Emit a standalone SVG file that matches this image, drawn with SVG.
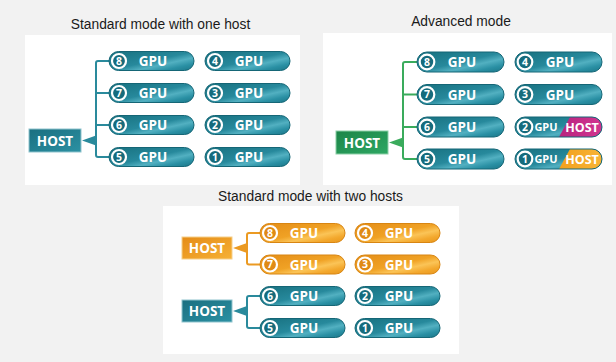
<svg xmlns="http://www.w3.org/2000/svg" width="616" height="362" viewBox="0 0 616 362">
  <defs>
    <linearGradient id="gTeal" x1="0" y1="0" x2="1" y2="1">
      <stop offset="0" stop-color="#17707f"/>
      <stop offset="0.5" stop-color="#27899c"/>
      <stop offset="0.66" stop-color="#52b0c1"/>
      <stop offset="0.82" stop-color="#2a90a4"/>
      <stop offset="1" stop-color="#1b7688"/>
    </linearGradient>
    <linearGradient id="gOrange" x1="0" y1="0" x2="1" y2="1">
      <stop offset="0" stop-color="#e48d17"/>
      <stop offset="0.5" stop-color="#f0a225"/>
      <stop offset="0.66" stop-color="#fbc457"/>
      <stop offset="0.82" stop-color="#f3a82d"/>
      <stop offset="1" stop-color="#e8961c"/>
    </linearGradient>
    <linearGradient id="gHostTeal" x1="0" y1="0" x2="1" y2="1">
      <stop offset="0" stop-color="#1a6f80"/>
      <stop offset="1" stop-color="#2c91a3"/>
    </linearGradient>
    <linearGradient id="gHostGreen" x1="0" y1="0" x2="1" y2="1">
      <stop offset="0" stop-color="#1c8548"/>
      <stop offset="1" stop-color="#2ea763"/>
    </linearGradient>
    <linearGradient id="gHostOrange" x1="0" y1="0" x2="1" y2="1">
      <stop offset="0" stop-color="#e58c18"/>
      <stop offset="1" stop-color="#f6b135"/>
    </linearGradient>
    <linearGradient id="gMagenta" x1="0" y1="0" x2="1" y2="0">
      <stop offset="0" stop-color="#b8237f"/>
      <stop offset="1" stop-color="#d1358f"/>
    </linearGradient>
    <linearGradient id="gAmber" x1="0" y1="0" x2="1" y2="0">
      <stop offset="0" stop-color="#f2a01c"/>
      <stop offset="1" stop-color="#f8b436"/>
    </linearGradient>
    <clipPath id="pillClip"><rect x="0" y="0" width="87" height="20" rx="10"/></clipPath>
  </defs>
  <style>
    .title { font-family: "Liberation Sans", Arial, sans-serif; font-size: 13.8px; fill: #1a1a1a; text-anchor: middle; }
    .lbl { font-family: "Open Sans", "Liberation Sans", sans-serif; font-weight: 700; fill: #ffffff; text-anchor: middle; }
    .gpu { font-size: 13.5px; }
    .num { font-size: 10.5px; }
    .host { font-size: 13.5px; }
    .pill-t { fill: url(#gTeal); stroke: #156676; stroke-width: 1; }
    .pill-o { fill: url(#gOrange); stroke: #d88512; stroke-width: 1; }
    .dot-t { fill: #166b7c; stroke: #ffffff; stroke-width: 2.2; }
    .dot-o { fill: #e08a14; stroke: #ffffff; stroke-width: 2.2; }
    .box-t { fill: url(#gHostTeal); stroke: #8fc3cd; stroke-width: 1; }
    .box-g { fill: url(#gHostGreen); stroke: #8ccfa6; stroke-width: 1; }
    .box-o { fill: url(#gHostOrange); stroke: #f6cf8a; stroke-width: 1; }
    .wire { fill: none; stroke-width: 2; }
    .wire-t { stroke: #2a8a9c; }
    .wire-g { stroke: #3aab5c; }
    .wire-o { stroke: #eb9a22; }
    .panel { fill: #ffffff; }
  </style>

  <!-- page background and panels -->
  <rect x="0" y="0" width="616" height="362" fill="#f2f2f2"/>
  <rect class="panel" x="25" y="35" width="275" height="150"/>
  <rect class="panel" x="323" y="33" width="289" height="152"/>
  <rect class="panel" x="163" y="206" width="296" height="148"/>

  <text class="title" x="160.5" y="29">Standard mode with one host</text>
  <text class="title" x="461" y="26">Advanced mode</text>
  <text class="title" x="310.5" y="201">Standard mode with two hosts</text>

  <!-- connectors -->
  <g id="connectors">
    <path class="wire wire-t" d="M109,61 H98 Q96,61 96,63 V155 Q96,157 98,157 H109 M96,93 H109 M96,125 H109"/>
    <polygon fill="#2a8a9c" points="82,140.5 96,135.5 96,145.5"/>
    <path class="wire wire-g" d="M417,62 H405 Q403,62 403,64 V157 Q403,159 405,159 H417 M403,94.5 H417 M403,127 H417"/>
    <polygon fill="#3aab5c" points="389,142.5 403,137.5 403,147.5"/>
    <path class="wire wire-o" d="M260,233 H249 Q247,233 247,235 V262.5 Q247,264.5 249,264.5 H260"/>
    <polygon fill="#eb9a22" points="233,248 247,243 247,253"/>
    <path class="wire wire-t" d="M260,296 H249 Q247,296 247,298 V326 Q247,328 249,328 H260"/>
    <polygon fill="#2a8a9c" points="233,311 247,306 247,316"/>
  </g>

  <!-- standard mode, one host -->
  <g id="host-a"><rect class="box-t" x="29" y="129" width="52" height="23"/><text class="lbl host" x="55" y="145.5">HOST</text></g>
  <g id="a-gpu8" transform="translate(109,51.5)"><rect class="pill-t" width="85" height="19" rx="9.5"/><circle class="dot-t" cx="10" cy="9.5" r="7"/><text class="lbl num" x="10" y="13.2">8</text><text class="lbl gpu" x="44" y="14.5">GPU</text></g>
  <g id="a-gpu7" transform="translate(109,83.5)"><rect class="pill-t" width="85" height="19" rx="9.5"/><circle class="dot-t" cx="10" cy="9.5" r="7"/><text class="lbl num" x="10" y="13.2">7</text><text class="lbl gpu" x="44" y="14.5">GPU</text></g>
  <g id="a-gpu6" transform="translate(109,115.5)"><rect class="pill-t" width="85" height="19" rx="9.5"/><circle class="dot-t" cx="10" cy="9.5" r="7"/><text class="lbl num" x="10" y="13.2">6</text><text class="lbl gpu" x="44" y="14.5">GPU</text></g>
  <g id="a-gpu5" transform="translate(109,147.5)"><rect class="pill-t" width="85" height="19" rx="9.5"/><circle class="dot-t" cx="10" cy="9.5" r="7"/><text class="lbl num" x="10" y="13.2">5</text><text class="lbl gpu" x="44" y="14.5">GPU</text></g>
  <g id="a-gpu4" transform="translate(205,51.5)"><rect class="pill-t" width="85" height="19" rx="9.5"/><circle class="dot-t" cx="10" cy="9.5" r="7"/><text class="lbl num" x="10" y="13.2">4</text><text class="lbl gpu" x="44" y="14.5">GPU</text></g>
  <g id="a-gpu3" transform="translate(205,83.5)"><rect class="pill-t" width="85" height="19" rx="9.5"/><circle class="dot-t" cx="10" cy="9.5" r="7"/><text class="lbl num" x="10" y="13.2">3</text><text class="lbl gpu" x="44" y="14.5">GPU</text></g>
  <g id="a-gpu2" transform="translate(205,115.5)"><rect class="pill-t" width="85" height="19" rx="9.5"/><circle class="dot-t" cx="10" cy="9.5" r="7"/><text class="lbl num" x="10" y="13.2">2</text><text class="lbl gpu" x="44" y="14.5">GPU</text></g>
  <g id="a-gpu1" transform="translate(205,147.5)"><rect class="pill-t" width="85" height="19" rx="9.5"/><circle class="dot-t" cx="10" cy="9.5" r="7"/><text class="lbl num" x="10" y="13.2">1</text><text class="lbl gpu" x="44" y="14.5">GPU</text></g>

  <!-- advanced mode -->
  <g id="host-b"><rect class="box-g" x="336" y="131" width="52" height="23"/><text class="lbl host" x="362" y="147.5">HOST</text></g>
  <g id="b-gpu8" transform="translate(417,52)"><rect class="pill-t" width="87" height="20" rx="10"/><circle class="dot-t" cx="10" cy="10" r="7.3"/><text class="lbl num" x="10" y="13.8">8</text><text class="lbl gpu" x="45" y="15">GPU</text></g>
  <g id="b-gpu7" transform="translate(417,84.5)"><rect class="pill-t" width="87" height="20" rx="10"/><circle class="dot-t" cx="10" cy="10" r="7.3"/><text class="lbl num" x="10" y="13.8">7</text><text class="lbl gpu" x="45" y="15">GPU</text></g>
  <g id="b-gpu6" transform="translate(417,117)"><rect class="pill-t" width="87" height="20" rx="10"/><circle class="dot-t" cx="10" cy="10" r="7.3"/><text class="lbl num" x="10" y="13.8">6</text><text class="lbl gpu" x="45" y="15">GPU</text></g>
  <g id="b-gpu5" transform="translate(417,149)"><rect class="pill-t" width="87" height="20" rx="10"/><circle class="dot-t" cx="10" cy="10" r="7.3"/><text class="lbl num" x="10" y="13.8">5</text><text class="lbl gpu" x="45" y="15">GPU</text></g>
  <g id="b-gpu4" transform="translate(515,52)"><rect class="pill-t" width="87" height="20" rx="10"/><circle class="dot-t" cx="10" cy="10" r="7.3"/><text class="lbl num" x="10" y="13.8">4</text><text class="lbl gpu" x="45" y="15">GPU</text></g>
  <g id="b-gpu3" transform="translate(515,84.5)"><rect class="pill-t" width="87" height="20" rx="10"/><circle class="dot-t" cx="10" cy="10" r="7.3"/><text class="lbl num" x="10" y="13.8">3</text><text class="lbl gpu" x="45" y="15">GPU</text></g>
  <g id="b-gpu2" transform="translate(515,117)">
    <g clip-path="url(#pillClip)">
      <rect width="87" height="20" fill="url(#gTeal)"/>
      <polygon points="55,0 87,0 87,20 44,20" fill="url(#gMagenta)"/>
    </g>
    <rect width="87" height="20" rx="10" fill="none" stroke="#156676" stroke-width="1"/>
    <circle class="dot-t" cx="10" cy="10" r="7.3"/><text class="lbl num" x="10" y="13.8">2</text>
    <text class="lbl" x="31" y="14.2" font-size="11">GPU</text>
    <text class="lbl" x="67" y="14.7" font-size="12.5">HOST</text>
  </g>
  <g id="b-gpu1" transform="translate(515,149)">
    <g clip-path="url(#pillClip)">
      <rect width="87" height="20" fill="url(#gTeal)"/>
      <polygon points="55,0 87,0 87,20 44,20" fill="url(#gAmber)"/>
    </g>
    <rect width="87" height="20" rx="10" fill="none" stroke="#156676" stroke-width="1"/>
    <circle class="dot-t" cx="10" cy="10" r="7.3"/><text class="lbl num" x="10" y="13.8">1</text>
    <text class="lbl" x="31" y="14.2" font-size="11">GPU</text>
    <text class="lbl" x="67" y="14.7" font-size="12.5">HOST</text>
  </g>

  <!-- standard mode, two hosts -->
  <g id="host-c1"><rect class="box-o" x="182" y="237" width="50" height="22"/><text class="lbl host" x="207" y="253">HOST</text></g>
  <g id="host-c2"><rect class="box-t" x="182" y="300" width="50" height="22"/><text class="lbl host" x="207" y="316">HOST</text></g>
  <g id="c-gpu8" transform="translate(260,223.5)"><rect class="pill-o" width="85" height="19" rx="9.5"/><circle class="dot-o" cx="10" cy="9.5" r="7"/><text class="lbl num" x="10" y="13.2">8</text><text class="lbl gpu" x="44" y="14.5">GPU</text></g>
  <g id="c-gpu7" transform="translate(260,255)"><rect class="pill-o" width="85" height="19" rx="9.5"/><circle class="dot-o" cx="10" cy="9.5" r="7"/><text class="lbl num" x="10" y="13.2">7</text><text class="lbl gpu" x="44" y="14.5">GPU</text></g>
  <g id="c-gpu6" transform="translate(260,286.5)"><rect class="pill-t" width="85" height="19" rx="9.5"/><circle class="dot-t" cx="10" cy="9.5" r="7"/><text class="lbl num" x="10" y="13.2">6</text><text class="lbl gpu" x="44" y="14.5">GPU</text></g>
  <g id="c-gpu5" transform="translate(260,318.5)"><rect class="pill-t" width="85" height="19" rx="9.5"/><circle class="dot-t" cx="10" cy="9.5" r="7"/><text class="lbl num" x="10" y="13.2">5</text><text class="lbl gpu" x="44" y="14.5">GPU</text></g>
  <g id="c-gpu4" transform="translate(355,223.5)"><rect class="pill-o" width="85" height="19" rx="9.5"/><circle class="dot-o" cx="10" cy="9.5" r="7"/><text class="lbl num" x="10" y="13.2">4</text><text class="lbl gpu" x="44" y="14.5">GPU</text></g>
  <g id="c-gpu3" transform="translate(355,255)"><rect class="pill-o" width="85" height="19" rx="9.5"/><circle class="dot-o" cx="10" cy="9.5" r="7"/><text class="lbl num" x="10" y="13.2">3</text><text class="lbl gpu" x="44" y="14.5">GPU</text></g>
  <g id="c-gpu2" transform="translate(355,286.5)"><rect class="pill-t" width="85" height="19" rx="9.5"/><circle class="dot-t" cx="10" cy="9.5" r="7"/><text class="lbl num" x="10" y="13.2">2</text><text class="lbl gpu" x="44" y="14.5">GPU</text></g>
  <g id="c-gpu1" transform="translate(355,318.5)"><rect class="pill-t" width="85" height="19" rx="9.5"/><circle class="dot-t" cx="10" cy="9.5" r="7"/><text class="lbl num" x="10" y="13.2">1</text><text class="lbl gpu" x="44" y="14.5">GPU</text></g>
</svg>
